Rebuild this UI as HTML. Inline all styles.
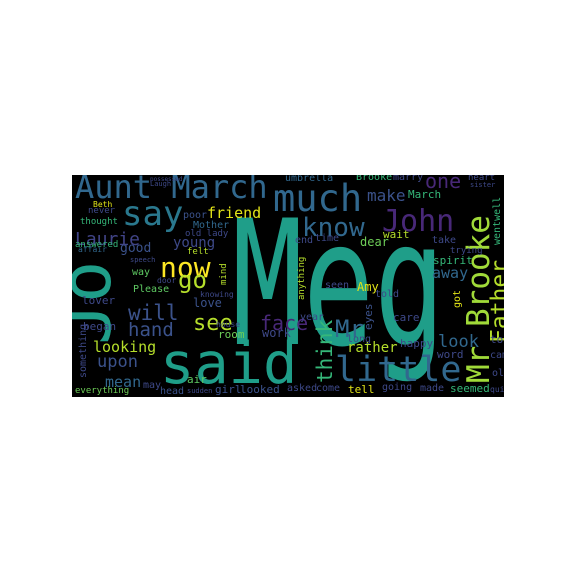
<!DOCTYPE html>
<html><head><meta charset="utf-8"><style>
html,body{margin:0;padding:0;background:#fff;}
svg text{font-family:"DejaVu Sans Mono","Liberation Mono",monospace;}
</style></head><body>
<svg width="576" height="576" viewBox="0 0 576 576">
<defs><clipPath id="c"><rect x="72" y="175" width="432" height="222"/></clipPath></defs>
<rect x="0" y="0" width="576" height="576" fill="#fff"/>
<rect x="72" y="175" width="432" height="222" fill="#000"/>
<g id="words" clip-path="url(#c)"></g>
</svg>
<script>
const words = ["Meg","said","Jo","Aunt March","much","say","John","know","little","Mr Brooke","Father","now","go","will","see","hand","face","look","Mr","think","Laurie","young","looking","upon","mean","one","make","away","rather","friend","good","love","lover","began","room","work","Please","way","Mother","old lady","poor","Beth","never","thought","answered","affair","felt","mind","door","knowing","speech","something","may","everything","air","head","sudden","girl","looked","house","umbrella","Brooke","marry","heart","sister","March","wentwell","wait","dear","end","time","take","trying","spirit","anything","seen","Amy","told","got","year","eyes","care","long","happy","word","came","asked","come","tell","going","made","seemed","quite","old","took","Laugh","possessed"];
const xs = [232,160,110,75,273,122,382,302,335,489,507,160,178,128,193,128,260,438,335,332,75,173,93,97,105,425,367,432,347,207,120,193,82,83,218,262,133,132,193,185,183,93,88,80,75,78,187,226,157,200,130,86,143,75,187,160,187,215,240,216,285,356,393,468,470,408,500,383,360,295,315,432,450,433,304,325,357,375,460,300,372,393,347,400,437,490,287,316,348,382,420,450,490,492,490,150,150];
const ys = [344,383,345,198,211,225,231,236,381,383,343,277,288,320,330,336,330,347,337,383,245,247,352,367,387,188,201,278,352,218,252,307,304,330,338,337,292,275,228,236,218,207,213,224,247,252,254,285,283,297,262,378,388,393,383,394,393,393,393,327,181,180,180,180,187,198,245,238,246,243,241,243,253,264,300,288,291,297,308,320,330,321,342,347,358,358,391,391,393,390,391,392,392,376,343,186,181];
const sizes = [118,57,70,32,37,34,30,26,35,31,23,28,24,21,22,19,20,17,24,21,18,14,15,17,15,20,16,15,14,15,13,12,11,11,11,12,10,10,10,9,10,8,9,9,9,8,9,9,8,8,7,10,10,9,11,10,7,11,11,8,10,10,10,9,7,11,10,11,12,10,10,10,9,11,9,10,12,10,10,10,11,11,10,11,11,10,10,10,11,10,10,11,8,10,11,7,6];
const colors = ["#1f9e89","#1f9e89","#1f9e89","#31688e","#31688e","#2a788e","#482878","#31688e","#31688e","#a0da39","#b5de2b","#fde725","#b5de2b","#3b528b","#b5de2b","#3b528b","#482878","#31688e","#31688e","#35b779","#414487","#3e4989","#b5de2b","#3b528b","#31688e","#482878","#3b528b","#31688e","#b5de2b","#e2e418","#3b528b","#3b528b","#3e4989","#3e4989","#6ece58","#3e4989","#5ec962","#5ec962","#31688e","#3e4989","#3b528b","#e2e418","#3e4989","#35b779","#35b779","#31688e","#b5de2b","#b5de2b","#3e4989","#3e4989","#3e4989","#3e4989","#3e4989","#6ece58","#5ec962","#3b528b","#3e4989","#3b528b","#3b528b","#3e4989","#31688e","#35b779","#3e4989","#3e4989","#3e4989","#35b779","#35b779","#b5de2b","#6ece58","#3e4989","#3e4989","#3e4989","#3e4989","#35b779","#b5de2b","#3e4989","#e2e418","#3e4989","#e2e418","#3e4989","#3b528b","#3e4989","#3e4989","#3e4989","#3e4989","#3e4989","#3e4989","#3e4989","#e2e418","#3e4989","#3e4989","#35b779","#3e4989","#3e4989","#3e4989","#3e4989","#3e4989"];
const rotated = ["Jo","Mr Brooke","Father","think","mind","something","wentwell","anything","got","eyes"];
const tall = ["Meg"];
const g = document.getElementById('words');
for (let i = 0; i < words.length; i++) {
  const t = document.createElementNS('http://www.w3.org/2000/svg','text');
  
  
  t.setAttribute('font-size', sizes[i]);
  t.setAttribute('fill', colors[i]);
  if (rotated.indexOf(words[i]) >= 0) {
    t.setAttribute('transform', 'translate(' + xs[i] + ',' + ys[i] + ') rotate(-90)');
  } else if (tall.indexOf(words[i]) >= 0) {
    t.setAttribute('transform', 'translate(' + xs[i] + ',' + ys[i] + ') scale(1,1.47)');
  } else {
    t.setAttribute('x', xs[i]);
    t.setAttribute('y', ys[i]);
  }
  t.textContent = words[i];
  g.appendChild(t);
}
</script>
</body></html>
